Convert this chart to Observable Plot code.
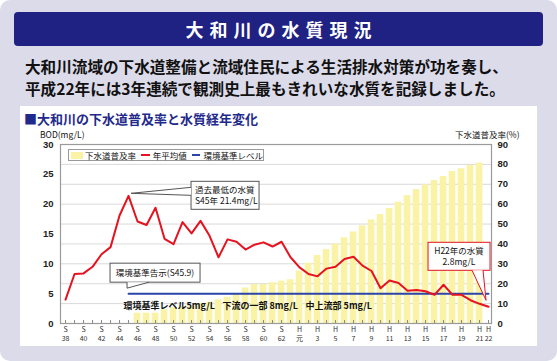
<!DOCTYPE html>
<html><head><meta charset="utf-8">
<script src="https://cdn.jsdelivr.net/npm/d3@7"></script>
<script src="https://cdn.jsdelivr.net/npm/@observablehq/plot@0.6"></script>
<style>
body{margin:0;background:#fff;font-family:"Noto Sans CJK JP",sans-serif;}
#page{position:relative;width:557px;height:361px;background:#dcdbea;border-radius:10px;overflow:hidden;}
#title{position:absolute;left:14px;top:12px;width:529px;height:34px;background:#1f2183;border-radius:4px;color:#fff;font-weight:700;font-size:18px;letter-spacing:6px;text-indent:6px;text-align:center;line-height:34px;}
.sub{position:absolute;left:25px;font-size:15.6px;font-weight:700;line-height:22px;height:22px;color:#111;white-space:nowrap;}
#panel{position:absolute;left:20px;top:106px;width:517px;height:240px;background:#fff;}
#head{position:absolute;left:24px;top:111px;font-size:13px;font-weight:700;color:#1f2a8c;line-height:16px;white-space:nowrap;}
.axl{position:absolute;top:129px;font-size:8.5px;color:#111;line-height:11px;white-space:nowrap;}
#chart{position:absolute;left:20px;top:128px;}
#legend{position:absolute;left:68px;top:149px;width:194px;height:10px;border:1px solid #9a9a9a;background:#fff;display:flex;align-items:center;font-size:8.5px;color:#111;white-space:nowrap;}
#legend .sw{display:inline-block;width:15px;height:7px;background:#faf3a6;margin:0 2px 0 2px;}
#legend .ln{display:inline-block;width:11px;height:2px;margin:0 3px 0 5px;}
</style></head>
<body>
<div id="page">
  <div id="title">大和川の水質現況</div>
  <div class="sub" style="top:55px">大和川流域の下水道整備と流域住民による生活排水対策が功を奏し、</div>
  <div class="sub" style="top:77px">平成22年には3年連続で観測史上最もきれいな水質を記録しました。</div>
  <div id="panel"></div>
  <div id="head">■大和川の下水道普及率と水質経年変化</div>
  <div class="axl" style="left:40px">BOD(mg/L)</div>
  <div class="axl" style="left:455px">下水道普及率(%)</div>
  <div id="chart"></div>
  <div id="legend"></div>
</div>
<script>
// ---- data ----
const years = [1963,1964,1965,1966,1967,1968,1969,1970,1971,1972,1973,1974,1975,1976,1977,1978,1979,1980,1981,1982,1983,1984,1985,1986,1987,1988,1989,1990,1991,1992,1993,1994,1995,1996,1997,1998,1999,2000,2001,2002,2003,2004,2005,2006,2007,2008,2009,2010];
const bod = [4.0,8.3,8.4,9.5,11.6,12.8,18.1,21.4,17.1,16.5,19.4,14.2,13.3,17.0,15.1,17.2,14.7,11.1,14.1,13.7,12.4,13.2,13.6,12.9,13.7,11.1,9.4,8.3,7.9,9.2,9.5,10.8,11.2,9.7,8.8,5.9,7.2,6.8,5.5,5.6,5.4,4.8,6.5,4.8,4.8,3.9,3.3,2.8];
const sewerYears = [1971,1972,1973,1974,1975,1976,1977,1978,1979,1980,1981,1982,1983,1984,1985,1986,1987,1988,1989,1990,1991,1992,1993,1994,1995,1996,1997,1998,1999,2000,2001,2002,2003,2004,2005,2006,2007,2008,2009];
const sewerRate = [5.2,5.2,5.2,6.9,7.9,8.2,8.7,9.9,10.7,11.9,13.2,14.6,17.9,19.6,19.6,20.5,21.3,22.0,26.3,30.3,34.2,37.2,40.0,43.1,46.0,49.1,52.1,54.8,57.8,61.0,64.3,67.3,69.7,71.9,73.9,76.4,77.8,79.5,80.7];
const standardYears = [1970, 2010];
const standardValue = 5;
const bodTicks = [0,5,10,15,20,25,30];
const rateTicks = [0,10,20,30,40,50,60,70,80,90];
const xTickYears = [1963,1965,1967,1969,1971,1973,1975,1977,1979,1981,1983,1985,1987,1989,1991,1993,1995,1997,1999,2001,2003,2005,2007,2009,2010];
const xTickLabels = ["S\n38","S\n40","S\n42","S\n44","S\n46","S\n48","S\n50","S\n52","S\n54","S\n56","S\n58","S\n60","S\n62","H\n元","H\n3","H\n5","H\n7","H\n9","H\n11","H\n13","H\n15","H\n17","H\n19","H\n21","H\n22"];
const legendLabels = ["下水道普及率","年平均値","環境基準レベル"];
const noteTexts = ["環境基準レベル5mg/L","下流の一部 8mg/L","中上流部 5mg/L"];
const calloutTexts = ["過去最低の水質\nS45年 21.4mg/L","環境基準告示(S45.9)","H22年の水質\n2.8mg/L"];
const calloutYears = [1970, 1970, 2010];
const calloutValues = [21.4, 5, 2.8];

// ---- styles / layout ----
const YELLOW = "#faf3a6", RED = "#e6121f", BLUE = "#2b45a8", GRID = "#d9d9d9";
const RATE_PER_BOD = 3; // 90% on the right axis = 30 mg/L on the left axis
const notePos = [{x:1969.44,y:2.85},{x:1980.44,y:2.85},{x:1989.67,y:2.85}];
const calloutBoxes = [
  {dx:63, dy:-14, w:68, h:28, stroke:"#555", align:"start", tail:"left"},
  {dx:-18, dy:-30, w:90, h:19, stroke:"#555", align:"middle", tail:"down"},
  {dx:-60, dy:-64, w:62, h:28, stroke:RED, align:"middle", tail:"downRight"}
];

const bodData = years.map((y,i)=>({year:y, v:bod[i]}));
const sewerData = sewerYears.map((y,i)=>({year:y, p:sewerRate[i]}));
const stdData = standardYears.map(y=>({year:y, v:standardValue}));
const eraOf = new Map(xTickYears.map((y,i)=>[y, xTickLabels[i].split("\n")[0]]));
const numOf = new Map(xTickYears.map((y,i)=>[y, xTickLabels[i].split("\n")[1]]));

// legend (HTML)
const lg = document.getElementById("legend");
lg.innerHTML = `<span class="sw"></span><span>${legendLabels[0]}</span>`+
  `<span class="ln" style="background:${RED}"></span><span>${legendLabels[1]}</span>`+
  `<span class="ln" style="background:${BLUE}"></span><span>${legendLabels[2]}</span>`;

function callouts(index, scales, values, dimensions) {
  const g = d3.create("svg:g").attr("font-size", 8.5).attr("fill", "#111");
  calloutTexts.forEach((t, i) => {
    const b = calloutBoxes[i];
    const ax = scales.x(calloutYears[i]), ay = scales.y(calloutValues[i]);
    const bx = ax + b.dx, by = ay + b.dy;
    let tail;
    if (b.tail === "left") tail = [[bx, by+6],[ax+3, ay-2],[bx, by+14]];
    else if (b.tail === "down") tail = [[ax-1, by+b.h],[ax-1, ay-5],[ax+21, by+b.h]];
    else tail = [[ax-16, by+b.h],[ax-2, ay-6],[ax-5, by+b.h]];
    g.append("rect").attr("x", bx).attr("y", by).attr("width", b.w).attr("height", b.h)
      .attr("fill", "#fff").attr("stroke", b.stroke).attr("stroke-width", 1);
    g.append("path").attr("d", d3.line()(tail)).attr("fill", "#fff").attr("stroke", b.stroke).attr("stroke-width", 1);
    const lines = t.split("\n");
    const tx = b.align === "start" ? bx + 4 : bx + b.w/2;
    lines.forEach((l, k) => {
      const cy = by + b.h/2 + (k - (lines.length-1)/2) * 11;
      g.append("text").attr("text-anchor", b.align).attr("x", tx).attr("y", cy).attr("dy", "0.35em").text(l);
    });
  });
  return g.node();
}

const axisFont = "'Liberation Sans', Arial, sans-serif";
const chart = Plot.plot({
  width: 517, height: 218,
  marginLeft: 40, marginRight: 46, marginTop: 16, marginBottom: 23,
  x: {domain: [1962.44, 2010.33]},
  y: {domain: [0, 30]},
  style: {background: "transparent", fontFamily: "'Noto Sans CJK JP', sans-serif", fontSize: "8px", overflow: "visible", color: "#222"},
  marks: [
    Plot.ruleY(rateTicks.filter(p => p > 0 && p < 90), {y: p => p / RATE_PER_BOD, stroke: GRID, strokeWidth: 1}),
    Plot.rectY(sewerData, {x1: d => d.year - 0.37, x2: d => d.year + 0.37, y1: 0, y2: d => d.p / RATE_PER_BOD, fill: YELLOW}),
    Plot.ruleX(years, {x: d => d, y1: 0, y2: 0.5, stroke: "#888", strokeWidth: 1}),
    Plot.frame({stroke: "#9a9a9a", strokeWidth: 1.2}),
    Plot.text(noteTexts, {x: (d,i) => notePos[i].x, y: (d,i) => notePos[i].y, text: d => d, textAnchor: "start", fontWeight: "bold", fontSize: 9, fill: "#111"}),
    Plot.line(stdData, {x: "year", y: "v", stroke: BLUE, strokeWidth: 2}),
    Plot.line(bodData, {x: "year", y: "v", stroke: RED, strokeWidth: 2}),
    callouts,
    Plot.axisY({anchor: "left", ticks: bodTicks, tickSize: 0, tickPadding: 7, label: null, fontWeight: "bold", fontSize: 9.5, fontFamily: axisFont, fill: "#222"}),
    Plot.axisY({anchor: "right", ticks: rateTicks.map(p => p / RATE_PER_BOD), tickFormat: d => String(Math.round(d * RATE_PER_BOD)), tickSize: 0, tickPadding: 6, label: null, fontWeight: "bold", fontSize: 9.5, fontFamily: axisFont, fill: "#222"}),
    Plot.axisX({ticks: xTickYears, tickFormat: d => eraOf.get(d), tickSize: 0, tickPadding: 3.5, label: null, fontSize: 7, fill: "#333"}),
    Plot.axisX({ticks: xTickYears, tickFormat: d => numOf.get(d), tickSize: 0, tickPadding: 12.5, label: null, fontSize: 7, fill: "#333"})
  ]
});
document.getElementById("chart").appendChild(chart);
</script>
</body></html>
